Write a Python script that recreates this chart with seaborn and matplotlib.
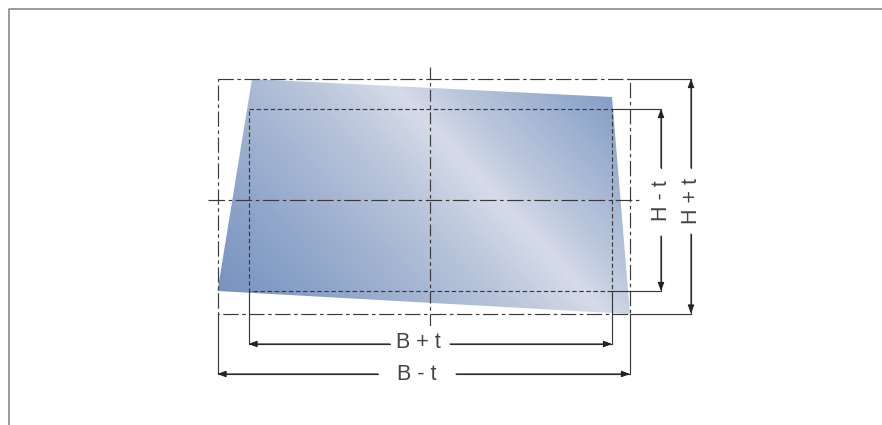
import numpy as np
import matplotlib
matplotlib.use("Agg")
import matplotlib.pyplot as plt
from matplotlib.colors import LinearSegmentedColormap
from matplotlib.patches import Polygon
import seaborn as sns

# drawing geometry (pixel units of the sheet)
sheet_x = [8.5, 8.5, 882]
sheet_y = [425, 9, 9]
plate_x = [252, 612, 630, 217.5]
plate_y = [79, 97, 314, 291]
grad_pos = [0.0, 0.2, 0.45, 0.62, 0.72, 1.0]
grad_col = ["#7893bf", "#90a6ca", "#b6c2d9", "#d5dbe8", "#bbc6dc", "#7f9bc4"]

outer_x = [217.5, 630, 630, 217.5, 217.5]
outer_y = [79, 79, 313.5, 313.5, 79]
inner_x = [248.5, 612, 612, 248.5, 248.5]
inner_y = [109, 109, 291, 291, 109]
axis_v_x = [430, 430]
axis_v_y = [67, 326]
axis_h_x = [208, 642]
axis_h_y = [200, 200]

ext_lines = {
    "top_out": ([630, 691], [79, 79]),
    "top_in": ([612, 661], [109, 109]),
    "bot_in": ([612, 661], [291, 291]),
    "bot_out": ([630, 691], [313.5, 313.5]),
    "l_in": ([248.5, 248.5], [291, 344]),
    "r_in": ([612, 612], [291, 344]),
    "l_out": ([217.5, 217.5], [313.5, 374]),
    "r_out": ([630, 630], [313.5, 374]),
}
# dimension lines: (start, end) with the arrow at end
dims = [
    ((661, 168), (661, 109)), ((661, 236), (661, 291)),
    ((691, 168), (691, 79)), ((691, 234), (691, 313.5)),
    ((390, 344), (248.5, 344)), ((450, 344), (612, 344)),
    ((378, 374), (217.5, 374)), ((456, 374), (630, 374)),
]
labels = ["B + t", "B - t", "H - t", "H + t"]
label_x = [418, 417, 661.5, 691.5]
label_y = [343, 374, 201, 201]
label_rot = [0, 0, 90, 90]

sns.set_theme(style="white")
plt.rcParams["font.family"] = ["Liberation Sans", "DejaVu Sans"]
fig = plt.figure(figsize=(8.82, 4.25), dpi=100)
ax = fig.add_axes([0, 0, 1, 1])
ax.set_xlim(0, 882)
ax.set_ylim(425, 0)
ax.axis("off")

def seg(x, y, color="#3a3a3a", lw=0.85, ls="-"):
    sns.lineplot(x=x, y=y, sort=False, estimator=None, ax=ax, color=color,
                 linewidth=lw, linestyle=ls, legend=False)

seg(sheet_x, sheet_y, color="#8a8a8a", lw=1.2)

xx, yy = np.meshgrid(np.arange(210, 640), np.arange(70, 320))
proj = 130 * xx - 120 * yy
cmap = LinearSegmentedColormap.from_list("plate", list(zip(grad_pos, grad_col)))
im = ax.imshow(proj, extent=(210, 640, 320, 70), cmap=cmap, vmin=-6580, vmax=70000,
               aspect="auto", zorder=1, interpolation="bilinear")
poly = Polygon(list(zip(plate_x, plate_y)), closed=True, transform=ax.transData,
               facecolor="none", edgecolor="none")
ax.add_patch(poly)
im.set_clip_path(poly)
ax.set_xlim(0, 882)
ax.set_ylim(425, 0)

dashdot = (0, (14, 3, 3, 3))
dash = (0, (3.8, 2.2))
seg(outer_x, outer_y, ls=(0, (13, 3, 3, 3)))
seg(axis_v_x, axis_v_y, ls=(0, (10, 3, 3, 3)))
seg(axis_h_x, axis_h_y, ls=dashdot)
seg(inner_x, inner_y, ls=dash)

for x, y in ext_lines.values():
    seg(x, y)
for a, b in dims:
    seg([a[0], b[0]], [a[1], b[1]])
    ax.annotate("", xy=b, xytext=a, zorder=5,
                arrowprops=dict(arrowstyle="-|>,head_length=0.42,head_width=0.16",
                                color="#222222", lw=0.8, shrinkA=0, shrinkB=0))
for t, x, y, r in zip(labels, label_x, label_y, label_rot):
    ax.text(x, y, t, rotation=r, ha="center", va="center", fontsize=15.5, color="#444444")

fig.savefig("out.png", dpi=100, facecolor="white")
